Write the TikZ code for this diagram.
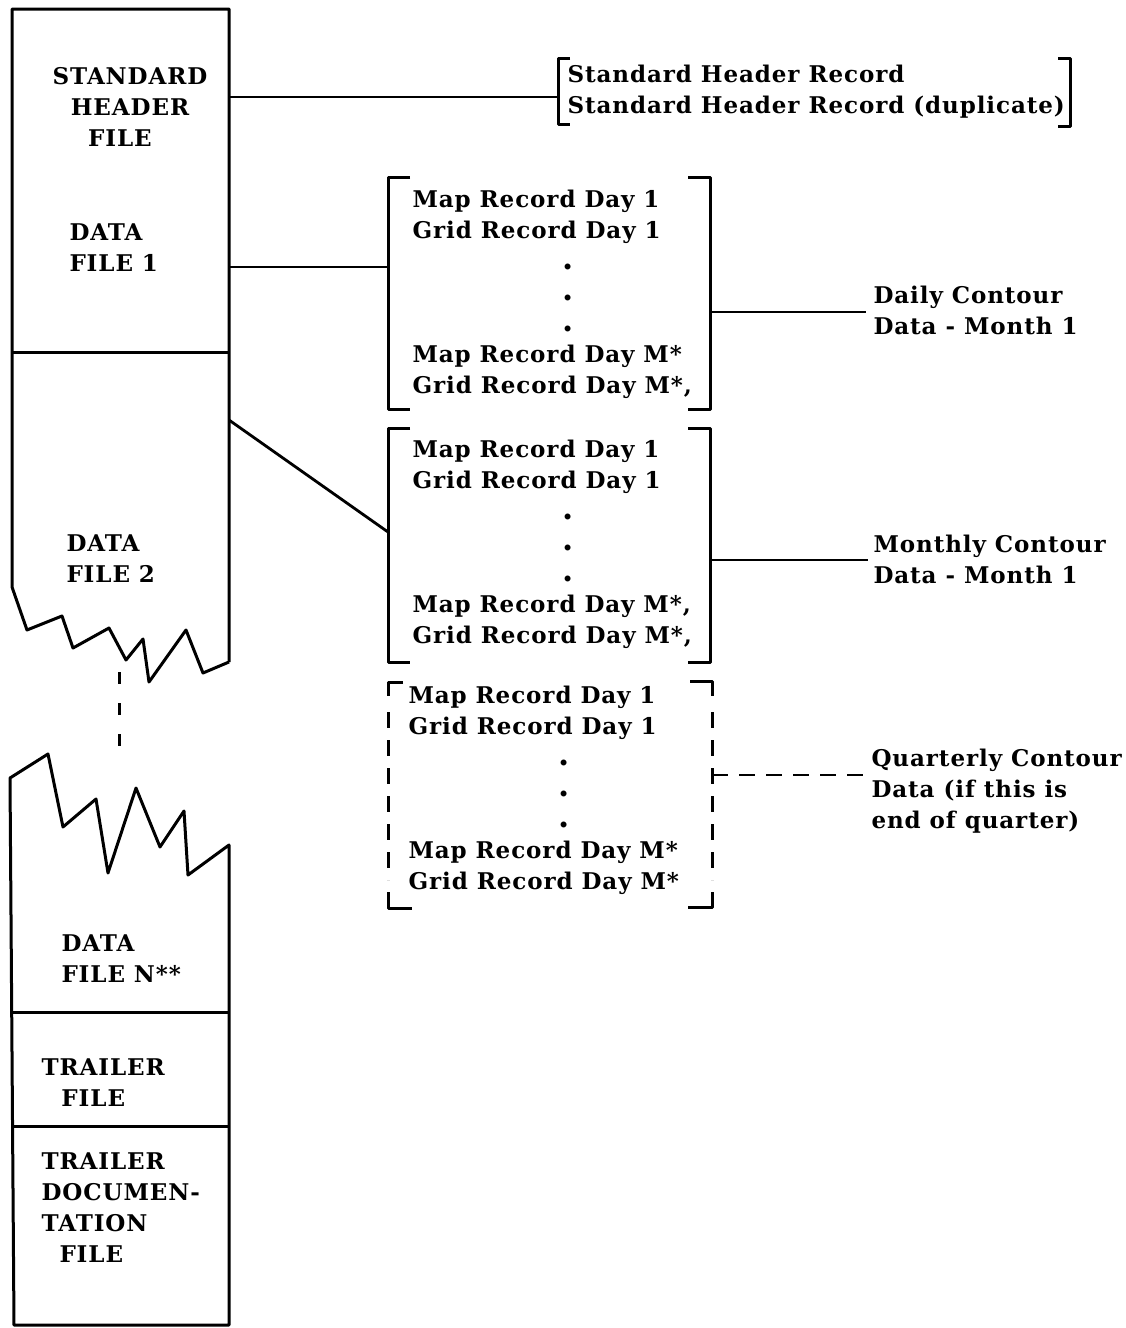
\documentclass[tikz,border=0pt]{standalone}
\usepackage{fontspec}
\setmainfont{DejaVu Serif}[LetterSpace=4]
\begin{document}
\begin{tikzpicture}[x=1pt,y=-1pt,line width=3pt,line join=round,
  txt/.style={font=\fontsize{23}{31}\selectfont\bfseries,inner sep=0pt,align=left},
  ctxt/.style={font=\fontsize{23}{31}\selectfont\bfseries,inner sep=0pt,align=center},
  conn/.style={line width=2.8pt},
  dconn/.style={line width=2.8pt,dash pattern=on 16pt off 11pt},
  brk/.style={line width=3pt}
]
\newcommand{\recdot}{\hspace*{150pt}\smash{\fontsize{32}{31}\selectfont .}}
\useasboundingbox (0,0) rectangle (1126,1328);
% ---------- left column, upper part ----------
\draw (229,662) -- (229,9) -- (12,9) -- (12,587) -- (27,630) -- (62,616) -- (73,648)
  -- (109,628) -- (126,660) -- (143,639) -- (149,682) -- (186,630) -- (203,673) -- (229,662);
\draw (12,352) -- (229,352);
% break marker
\draw[dash pattern=on 12pt off 19pt] (119,672) -- (119,747);
% ---------- left column, lower part ----------
\draw (10,778) -- (48,754) -- (63,827) -- (96,799) -- (108,873) -- (136,788) -- (160,847)
  -- (184,811) -- (188,875) -- (229,845) -- (229,1325) -- (14,1325) -- cycle;
\draw (12,1012) -- (229,1012);
\draw (13,1126) -- (229,1126);
% ---------- left column labels ----------
\node[ctxt] (shf) at (130,107) {STANDARD\\HEADER\\FILE\hspace*{20pt}};
\node[txt,anchor=west] (df1) at (68,248) {DATA\\FILE 1};
\node[txt,anchor=west] (df2) at (65,559) {DATA\\FILE 2};
\node[txt,anchor=west] (dfn) at (60,959) {DATA\\FILE N**};
\node[txt,anchor=west] (tf) at (40,1083) {TRAILER\\\hspace*{20pt}FILE};
\node[txt,anchor=west] (tdf) at (40,1208) {TRAILER\\DOCUMEN-\\TATION\\\hspace*{18pt}FILE};
% ---------- connector end points on the column ----------
\coordinate (shfR) at (229,97);
\coordinate (df1R) at (229,267);
\coordinate (df2R) at (229,420);
% ---------- header bracket ----------
\draw[brk] (570,58) -- (558,58) -- (558,124) -- (570,124);
\draw[brk] (1058,58) -- (1070,58) -- (1070,126) -- (1058,126);
\coordinate (b0L) at (558,97);
\node[txt,anchor=west] (hdr) at (566,92) {Standard Header Record\\Standard Header Record (duplicate)};
% ---------- bracket 1 ----------
\draw[brk] (410,177) -- (388,177) -- (388,409) -- (410,409);
\draw[brk] (688,177) -- (710,177) -- (710,409) -- (688,409);
\coordinate (b1L) at (388,267);
\coordinate (b1R) at (710,312);
\node[txt,anchor=west] (r1) at (411,294) {Map Record Day 1\\Grid Record Day 1\\
  \recdot\\\recdot\\\recdot\\
  Map Record Day M*\\Grid Record Day M*,};
% ---------- bracket 2 ----------
\draw[brk] (410,428) -- (388,428) -- (388,662) -- (410,662);
\draw[brk] (688,428) -- (710,428) -- (710,662) -- (688,662);
\coordinate (b2L) at (388,532);
\coordinate (b2R) at (710,560);
\node[txt,anchor=west] (r2) at (411,544) {Map Record Day 1\\Grid Record Day 1\\
  \recdot\\\recdot\\\recdot\\
  Map Record Day M*,\\Grid Record Day M*,};
% ---------- bracket 3 (dashed) ----------
\draw[brk] (403,682) -- (388,682) -- (388,696);
\draw[brk,dash pattern=on 16pt off 12pt] (388,712) -- (388,880);
\draw[brk] (388,892) -- (388,908) -- (412,908);
\draw[brk] (690,681) -- (712,681) -- (712,696);
\draw[brk,dash pattern=on 16pt off 12pt] (712,712) -- (712,880);
\draw[brk] (712,892) -- (712,907) -- (688,907);
\coordinate (b3R) at (712,775);
\node[txt,anchor=west] (r3) at (407,790) {Map Record Day 1\\Grid Record Day 1\\
  \recdot\\\recdot\\\recdot\\
  Map Record Day M*\\Grid Record Day M*};
% ---------- right labels ----------
\node[txt,anchor=west] (daily) at (872,310) {Daily Contour\\Data - Month 1};
\node[txt,anchor=west] (monthly) at (872,559) {Monthly Contour\\Data - Month 1};
\node[txt,anchor=west] (quart) at (870,791) {Quarterly Contour\\Data (if this is\\end of quarter)};
\coordinate (dailyL) at (866,312);
\coordinate (monthlyL) at (868,560);
\coordinate (quartL) at (866,775);
% ---------- connectors ----------
\draw[conn] (shfR) -- (b0L);
\draw[conn] (df1R) -- (b1L);
\draw[conn] (df2R) -- (b2L);
\draw[conn] (b1R) -- (dailyL);
\draw[conn] (b2R) -- (monthlyL);
\draw[dconn] (b3R) -- (quartL);
\end{tikzpicture}
\end{document}
